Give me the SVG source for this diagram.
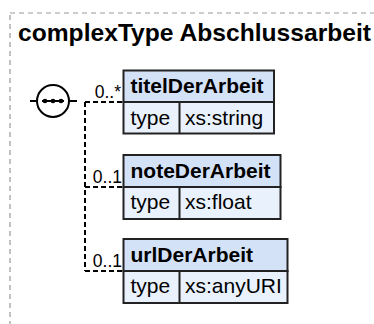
<svg xmlns="http://www.w3.org/2000/svg" width="374" height="324" viewBox="0 0 374 324">
<style>
.frame{fill:none;stroke:#999;stroke-width:1.2;stroke-dasharray:5 4}
.title{font-family:"Liberation Sans",Arial,sans-serif;font-weight:bold;font-size:24px;fill:#000}
.hdr{fill:#d4e2f8;stroke:#222;stroke-width:2}
.row{fill:#e9f1fc;stroke:#222;stroke-width:2}
.div{stroke:#222;stroke-width:2}
.name{font-family:"Liberation Sans",Arial,sans-serif;font-weight:bold;font-size:21px;fill:#000}
.val{font-family:"Liberation Sans",Arial,sans-serif;font-size:21px;fill:#000}
.card{font-family:"Liberation Sans",Arial,sans-serif;font-size:17.5px;fill:#000;text-anchor:end}
.conn{fill:none;stroke:#000;stroke-width:2;stroke-dasharray:5 3}
.solid{fill:none;stroke:#000;stroke-width:2}
</style>
<rect class="frame" x="10" y="13" width="380" height="330"/>
<text class="title" x="18" y="41" textLength="353" lengthAdjust="spacingAndGlyphs">complexType Abschlussarbeit</text>
<g id="sequence">
<line class="solid" x1="30" y1="101" x2="37" y2="101"/>
<circle cx="53" cy="101" r="16" fill="#fff" stroke="#000" stroke-width="2"/>
<line class="solid" x1="42" y1="101" x2="64" y2="101"/>
<circle cx="45" cy="101" r="2.3" fill="#000"/>
<circle cx="53" cy="101" r="2.3" fill="#000"/>
<circle cx="61" cy="101" r="2.3" fill="#000"/>
<line class="solid" x1="69" y1="101" x2="77" y2="101"/>
</g>
<g id="connectors">
<path class="conn" d="M85 102 V271"/>
<path class="conn" d="M85 102 H123"/>
<path class="conn" d="M85 187 H123"/>
<path class="conn" d="M85 271 H123"/>
<text class="card" x="121" y="97.5">0..*</text>
<text class="card" x="122" y="183">0..1</text>
<text class="card" x="122" y="267">0..1</text>
</g>
<g id="titelDerArbeit">
<rect class="hdr" x="123.5" y="70.5" width="150.5" height="31.5"/>
<rect class="row" x="123.5" y="102" width="150.5" height="31.5"/>
<line class="div" x1="179.5" y1="102" x2="179.5" y2="133.5"/>
<text class="name" x="130.5" y="93">titelDerArbeit</text>
<text class="val" x="130.5" y="125">type</text>
<text class="val" x="185" y="125">xs:string</text>
</g>
<g id="noteDerArbeit">
<rect class="hdr" x="123.5" y="155" width="157" height="32"/>
<rect class="row" x="123.5" y="187" width="157" height="32"/>
<line class="div" x1="179.5" y1="187" x2="179.5" y2="219"/>
<text class="name" x="130.5" y="178">noteDerArbeit</text>
<text class="val" x="130.5" y="209">type</text>
<text class="val" x="185" y="209">xs:float</text>
</g>
<g id="urlDerArbeit">
<rect class="hdr" x="123.5" y="239" width="164" height="32"/>
<rect class="row" x="123.5" y="271" width="164" height="32"/>
<line class="div" x1="179.5" y1="271" x2="179.5" y2="303"/>
<text class="name" x="130.5" y="262">urlDerArbeit</text>
<text class="val" x="130.5" y="293">type</text>
<text class="val" x="185" y="293">xs:anyURI</text>
</g>
</svg>
